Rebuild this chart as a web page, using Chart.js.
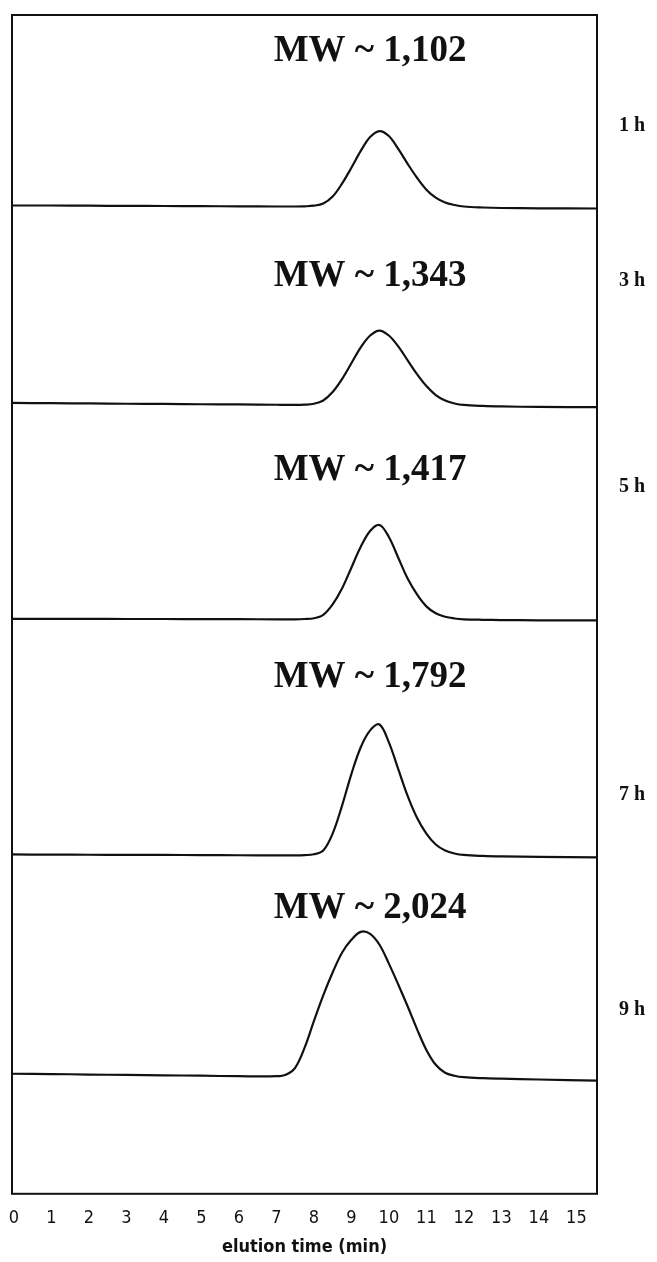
<!DOCTYPE html>
<html>
<head>
<meta charset="utf-8">
<script src="https://cdn.jsdelivr.net/npm/chart.js@4.4.1/dist/chart.umd.min.js"></script>
<style>
  html, body { margin: 0; padding: 0; background: #fff; }
  #wrap { width: 657px; height: 1262px; }
</style>
</head>
<body>
<div id="wrap"><canvas id="gpc"></canvas></div>
<script>
// elution time (min), shared by every trace
const times = [-0.05, 1, 2, 3, 4, 5, 6, 7, 7.25, 7.5, 7.75, 8, 8.25, 8.5, 8.75, 9, 9.25, 9.5, 9.75,
  10, 10.25, 10.5, 10.75, 11, 11.25, 11.5, 11.75, 12, 12.5, 13, 14, 15.55];

// detector signal above each baseline (a.u.)
const signal1h = [0.1, 0.1, 0.08, 0.06, 0.05, 0.03, 0.02, 0, 0, 0, 0.02, 0.08, 0.3, 1.0, 2.3, 3.9, 5.6, 7.0, 7.6,
  7.1, 5.8, 4.3, 2.9, 1.7, 0.9, 0.4, 0.15, 0, -0.1, -0.15, -0.18, -0.2];
const signal3h = [0.2, 0.18, 0.15, 0.12, 0.1, 0.07, 0.05, 0.02, 0.01, 0, 0.03, 0.12, 0.45, 1.3, 2.6, 4.2, 5.8, 7.0, 7.5,
  7.0, 5.9, 4.5, 3.1, 1.9, 1.0, 0.45, 0.15, 0, -0.1, -0.15, -0.2, -0.22];
const signal5h = [0.05, 0.05, 0.04, 0.03, 0.03, 0.02, 0.01, 0, 0, 0, 0.03, 0.1, 0.45, 1.5, 3.1, 5.2, 7.3, 8.9, 9.5,
  8.3, 6.2, 4.1, 2.5, 1.3, 0.6, 0.25, 0.08, 0, -0.05, -0.08, -0.1, -0.12];
const signal7h = [0.1, 0.08, 0.07, 0.06, 0.05, 0.04, 0.02, 0, 0, 0, 0.03, 0.12, 0.5, 2.2, 5.0, 8.2, 10.9, 12.6, 13.2,
  11.4, 8.7, 6.0, 3.8, 2.2, 1.1, 0.5, 0.2, 0.05, -0.05, -0.1, -0.15, -0.2];
const signal9h = [0.3, 0.27, 0.22, 0.18, 0.14, 0.1, 0.05, 0.05, 0.2, 0.9, 2.9, 5.6, 8.2, 10.5, 12.5, 13.8, 14.6, 14.4,
  13.3, 11.4, 9.3, 7.1, 4.8, 2.7, 1.2, 0.4, 0.1, -0.05, -0.15, -0.2, -0.28, -0.4];

const reactionTimes = ["1 h", "3 h", "5 h", "7 h", "9 h"];
const mwLabels = ["MW ~ 1,102", "MW ~ 1,343", "MW ~ 1,417", "MW ~ 1,792", "MW ~ 2,024"];
const xTicks = [0, 1, 2, 3, 4, 5, 6, 7, 8, 9, 10, 11, 12, 13, 14, 15];

// layout: where each trace sits on the shared y scale, and where its texts go
const baseLevels = [99.5, 79.5, 57.9, 34.1, 11.8];
const mwLevels = [115.1, 92.5, 72.9, 52.0, 28.8];
const hourLevels = [107.6, 92.0, 71.2, 40.2, 18.5];
const mwTime = 9.5;

const allSignals = [signal1h, signal3h, signal5h, signal7h, signal9h];

const datasets = allSignals.map((sig, k) => ({
  label: reactionTimes[k],
  data: times.map((t, i) => ({ x: t, y: baseLevels[k] + sig[i] })),
  borderColor: "#111",
  borderWidth: 2.2,
  pointRadius: 0,
  fill: false,
  tension: 0.35,
}));

// frame around the plot + the MW / hour texts
const annotate = {
  id: "annotate",
  afterDraw(chart) {
    const { ctx, chartArea, scales } = chart;
    ctx.save();
    ctx.strokeStyle = "#111";
    ctx.lineWidth = 2;
    ctx.strokeRect(chartArea.left, chartArea.top, chartArea.right - chartArea.left, chartArea.bottom - chartArea.top);

    ctx.fillStyle = "#111";
    ctx.textAlign = "center";
    ctx.textBaseline = "middle";
    ctx.font = "bold 37px 'Liberation Serif', serif";
    mwLabels.forEach((txt, k) => {
      ctx.fillText(txt, scales.x.getPixelForValue(mwTime), scales.y.getPixelForValue(mwLevels[k]));
    });
    ctx.font = "bold 20px 'Liberation Serif', serif";
    reactionTimes.forEach((txt, k) => {
      ctx.fillText(txt, chartArea.right + 35, scales.y.getPixelForValue(hourLevels[k]));
    });
    ctx.restore();
  },
};

const chart = new Chart(document.getElementById("gpc"), {
  type: "line",
  data: { datasets: datasets },
  options: {
    responsive: true,
    maintainAspectRatio: false,
    animation: false,
    layout: { padding: { left: 12, right: 60, top: 15, bottom: 4 } },
    plugins: {
      legend: false,
      tooltip: { enabled: false },
    },
    scales: {
      x: {
        type: "linear",
        min: -0.05,
        max: 15.55,
        afterBuildTicks: (axis) => {
          axis.ticks = xTicks.map((v) => ({ value: v }));
        },
        grid: { display: false },
        border: { display: false },
        ticks: {
          color: "#111",
          padding: 6,
          maxRotation: 0,
          autoSkip: false,
          font: { family: "'Liberation Sans Narrow', 'DejaVu Sans Condensed', sans-serif", size: 18 },
        },
        title: {
          display: true,
          text: "elution time (min)",
          color: "#111",
          padding: { top: 1, bottom: 0 },
          font: { family: "'DejaVu Sans Condensed', 'Liberation Sans Narrow', sans-serif", size: 18, weight: "bold" },
        },
      },
      y: {
        display: false,
        min: 0,
        max: 118.8,
      },
    },
  },
  plugins: [annotate],
});
</script>
</body>
</html>
